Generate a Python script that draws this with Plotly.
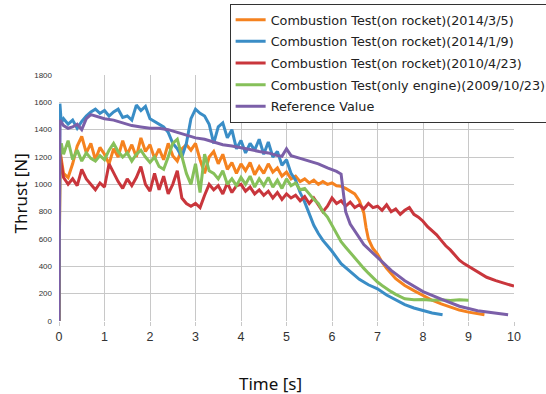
import plotly.graph_objects as go

# ---------------- data ----------------
t_orange = [0, 0.02, 0.1, 0.2, 0.3, 0.4, 0.5, 0.6, 0.7, 0.8, 0.9, 1.0, 1.1, 1.2, 1.3, 1.4, 1.5, 1.6, 1.7, 1.8, 1.9,
            2.0, 2.1, 2.2, 2.3, 2.4, 2.5, 2.6, 2.7, 2.8, 2.9, 3.0, 3.1, 3.2, 3.3, 3.4, 3.5, 3.6, 3.7, 3.8, 3.9,
            4.0, 4.1, 4.2, 4.3, 4.4, 4.5, 4.6, 4.7, 4.8, 4.9, 5.0, 5.1, 5.2, 5.3, 5.4, 5.5, 5.6, 5.7, 5.8, 5.9,
            6.0, 6.1, 6.2, 6.3, 6.4, 6.5, 6.6, 6.7, 6.75, 6.8, 6.9, 7.0, 7.1, 7.2, 7.4, 7.6, 7.8, 8.0, 8.2, 8.4,
            8.6, 8.8, 9.0, 9.2, 9.35]
v_orange = [0, 1250, 1080, 1050, 1150, 1280, 1350, 1230, 1300, 1180, 1270, 1220, 1150, 1260, 1200, 1320, 1220, 1290, 1200, 1340, 1240,
            1290, 1190, 1260, 1180, 1300, 1210, 1170, 1260, 1290, 1250, 1300, 1180, 1080, 1200, 1240, 1150, 1220, 1110, 1160, 1080,
            1150, 1100, 1160, 1070, 1130, 1080, 1150, 1090, 1120, 1060, 1090, 1040, 1060, 1020, 1040, 1010, 1030, 1000, 1020, 1000,
            1010, 990, 985, 970, 950, 930, 880, 790, 680, 600, 530, 490, 430, 385, 310, 260, 222, 185, 152, 125,
            100, 80, 65, 52, 45]

t_blue = [0, 0.02, 0.05, 0.1, 0.2, 0.3, 0.4, 0.5, 0.6, 0.7, 0.8, 0.9, 1.0, 1.1, 1.2, 1.3, 1.4, 1.5, 1.6, 1.7, 1.8, 1.9,
          2.0, 2.1, 2.2, 2.3, 2.4, 2.5, 2.6, 2.7, 2.8, 2.9, 3.0, 3.1, 3.2, 3.3, 3.4, 3.5, 3.6, 3.7, 3.8, 3.9,
          4.0, 4.1, 4.2, 4.3, 4.4, 4.5, 4.6, 4.7, 4.8, 4.9, 5.0, 5.1, 5.2, 5.3, 5.4, 5.5, 5.6, 5.7, 5.8, 5.9,
          6.0, 6.2, 6.4, 6.6, 6.8, 7.0, 7.2, 7.4, 7.6, 7.8, 8.0, 8.2, 8.43]
v_blue = [0, 1590, 1450, 1480, 1440, 1470, 1410, 1460, 1500, 1530, 1550, 1520, 1540, 1500, 1530, 1550, 1490, 1500, 1470, 1580, 1540, 1570,
          1480, 1460, 1440, 1420, 1380, 1300, 1260, 1200, 1300, 1480, 1550, 1520, 1500, 1440, 1300, 1420, 1450, 1340, 1400, 1260,
          1320, 1230, 1300, 1250, 1330, 1220, 1310, 1200, 1240, 1140, 1180, 1080, 1030, 940, 870, 780, 700, 640, 590, 550,
          510, 420, 360, 305, 265, 235, 190, 155, 120, 95, 75, 58, 45]

t_red = [0, 0.02, 0.05, 0.1, 0.2, 0.3, 0.4, 0.5, 0.6, 0.7, 0.8, 0.9, 1.0, 1.1, 1.2, 1.3, 1.4, 1.5, 1.6, 1.7, 1.8, 1.9,
         2.0, 2.1, 2.2, 2.3, 2.4, 2.5, 2.6, 2.7, 2.8, 2.9, 3.0, 3.1, 3.2, 3.3, 3.4, 3.5, 3.6, 3.7, 3.8, 3.9,
         4.0, 4.1, 4.2, 4.3, 4.4, 4.5, 4.6, 4.7, 4.8, 4.9, 5.0, 5.1, 5.2, 5.3, 5.4, 5.5, 5.6, 5.7, 5.8, 5.9,
         6.0, 6.1, 6.2, 6.3, 6.4, 6.5, 6.6, 6.7, 6.8, 6.9, 7.0, 7.1, 7.2, 7.3, 7.4, 7.5, 7.6, 7.7, 7.8, 7.9,
         8.0, 8.1, 8.2, 8.3, 8.4, 8.5, 8.6, 8.7, 8.8, 8.9, 9.0, 9.2, 9.4, 9.6, 9.8, 10.0]
v_red = [0, 1250, 1150, 1050, 1000, 1040, 990, 1110, 1040, 1000, 960, 1010, 980, 1150, 1080, 1020, 970, 1040, 990, 1050, 1130, 1000,
         950, 1080, 960, 1060, 930, 1000, 1100, 900, 860, 840, 860, 830, 920, 1000, 960, 990, 930, 1010, 940, 990,
         1000, 950, 980, 930, 960, 920, 950, 900, 940, 890, 930, 900, 920, 880, 910, 860, 900, 850, 800, 840,
         900, 860, 880, 840, 870, 830, 850, 820, 860, 830, 840, 810, 850, 800, 820, 780, 810, 830, 780, 760,
         730, 690, 660, 630, 590, 550, 520, 480, 445, 420, 400, 360, 320, 295, 275, 255]

t_green = [0, 0.02, 0.05, 0.1, 0.2, 0.3, 0.4, 0.5, 0.6, 0.7, 0.8, 0.9, 1.0, 1.1, 1.2, 1.3, 1.4, 1.5, 1.6, 1.7, 1.8, 1.9,
           2.0, 2.1, 2.2, 2.3, 2.4, 2.5, 2.6, 2.7, 2.8, 2.9, 3.0, 3.1, 3.2, 3.3, 3.4, 3.5, 3.6, 3.7, 3.8, 3.9,
           4.0, 4.1, 4.2, 4.3, 4.4, 4.5, 4.6, 4.7, 4.8, 4.9, 5.0, 5.1, 5.2, 5.3, 5.4, 5.5, 5.6, 5.7, 5.8, 5.9,
           6.0, 6.1, 6.2, 6.3, 6.4, 6.5, 6.6, 6.7, 6.8, 6.9, 7.0, 7.1, 7.2, 7.3, 7.4, 7.5, 7.6, 7.8, 8.0, 8.2,
           8.4, 8.6, 8.8, 9.0]
v_green = [0, 1200, 1300, 1220, 1320, 1180, 1250, 1170, 1230, 1190, 1170, 1210, 1180, 1250, 1300, 1240, 1200, 1230, 1170, 1220, 1250, 1200,
           1160, 1200, 1130, 1110, 1200, 1300, 1330, 1200, 1080, 1000, 1150, 940, 1220, 1100, 1080, 1040, 1100, 1000, 1040, 990,
           1050, 1000, 1060, 980, 1040, 990, 1050, 980, 1030, 970, 1040, 990, 1010, 960, 970, 930, 890, 860, 800, 760,
           700, 640, 580, 540, 500, 460, 420, 385, 350, 315, 285, 260, 235, 215, 195, 178, 162, 155, 158, 152,
           156, 150, 155, 152]

t_purple = [0, 0.02, 0.1, 0.2, 0.3, 0.4, 0.5, 0.6, 0.7, 0.8, 0.9, 1.0, 1.2, 1.4, 1.6, 1.8, 2.0, 2.2, 2.4, 2.6, 2.8,
            3.0, 3.2, 3.4, 3.6, 3.8, 4.0, 4.2, 4.4, 4.6, 4.8, 4.9, 5.0, 5.1, 5.3, 5.5, 5.7, 5.9, 6.1, 6.2,
            6.25, 6.3, 6.4, 6.5, 6.7, 7.0, 7.3, 7.6, 8.0, 8.4, 8.8, 9.2, 9.6, 9.87]
v_purple = [0, 1470, 1430, 1410, 1420, 1440, 1400, 1480, 1510, 1500, 1490, 1480, 1470, 1450, 1430, 1420, 1410, 1410, 1400, 1380, 1360,
            1340, 1330, 1310, 1290, 1280, 1270, 1255, 1240, 1230, 1210, 1205, 1260, 1210, 1190, 1170, 1150, 1120, 1095, 1075,
            950, 800, 710, 660, 560, 465, 370, 295, 215, 160, 108, 75, 55, 45]

names = ["Combustion Test(on rocket)(2014/3/5)",
         "Combustion Test(on rocket)(2014/1/9)",
         "Combustion Test(on rocket)(2010/4/23)",
         "Combustion Test(only engine)(2009/10/23)",
         "Reference Value"]
colors = ["#f5821f", "#3a8dc6", "#c9363c", "#86c05a", "#7b5fa8"]
x_ticks = [0, 1, 2, 3, 4, 5, 6, 7, 8, 9, 10]
y_ticks = [0, 200, 400, 600, 800, 1000, 1200, 1400, 1600, 1800]

series = [(t_orange, v_orange), (t_blue, v_blue), (t_red, v_red), (t_green, v_green), (t_purple, v_purple)]

fig = go.Figure()
for i, ((tx, vy), nm, col) in enumerate(zip(series, names, colors)):
    fig.add_trace(go.Scatter(x=tx, y=vy, mode="lines", name=nm, legendgroup="g%d" % i,
                             line=dict(color=col, width=3)))

fig.update_layout(
    width=546, height=394,
    margin=dict(l=59, r=32, t=75, b=73, autoexpand=False),
    paper_bgcolor="white", plot_bgcolor="white",
    showlegend=True,
    legend=dict(x=0.375, y=1.289, xanchor="left", yanchor="top",
                bordercolor="#333333", borderwidth=1, bgcolor="white",
                font=dict(family="DejaVu Sans", size=12.8, color="#222222"),
                tracegroupgap=2, traceorder="grouped"),
    xaxis=dict(range=[0, 10], tickvals=x_ticks, showgrid=True, gridcolor="#c8c8c8", gridwidth=1,
               zeroline=False, showline=False, ticks="outside", ticklen=4, tickcolor="#c8c8c8",
               tickfont=dict(family="Liberation Sans", size=12.5, color="#333333")),
    yaxis=dict(range=[0, 1800], tickvals=y_ticks, showgrid=True, gridcolor="#c8c8c8", gridwidth=1,
               zeroline=False, showline=False, ticks="", ticklabelstandoff=6,
               tickfont=dict(family="Liberation Sans", size=8, color="#333333")),
    annotations=[
        dict(text="Thrust [N]", xref="paper", yref="paper", x=-0.085, y=0.52, xanchor="center", yanchor="middle",
             textangle=-90, showarrow=False, font=dict(family="Noto Sans", size=17, color="#111111")),
        dict(text="Time [s]", xref="paper", yref="paper", x=0.465, y=-0.255, xanchor="center", yanchor="middle",
             showarrow=False, font=dict(family="Noto Sans", size=17, color="#111111")),
    ],
)

fig.write_html("out.html", config={"displayModeBar": False},
               post_script="document.body.style.margin='0px';document.body.style.overflow='hidden';")
